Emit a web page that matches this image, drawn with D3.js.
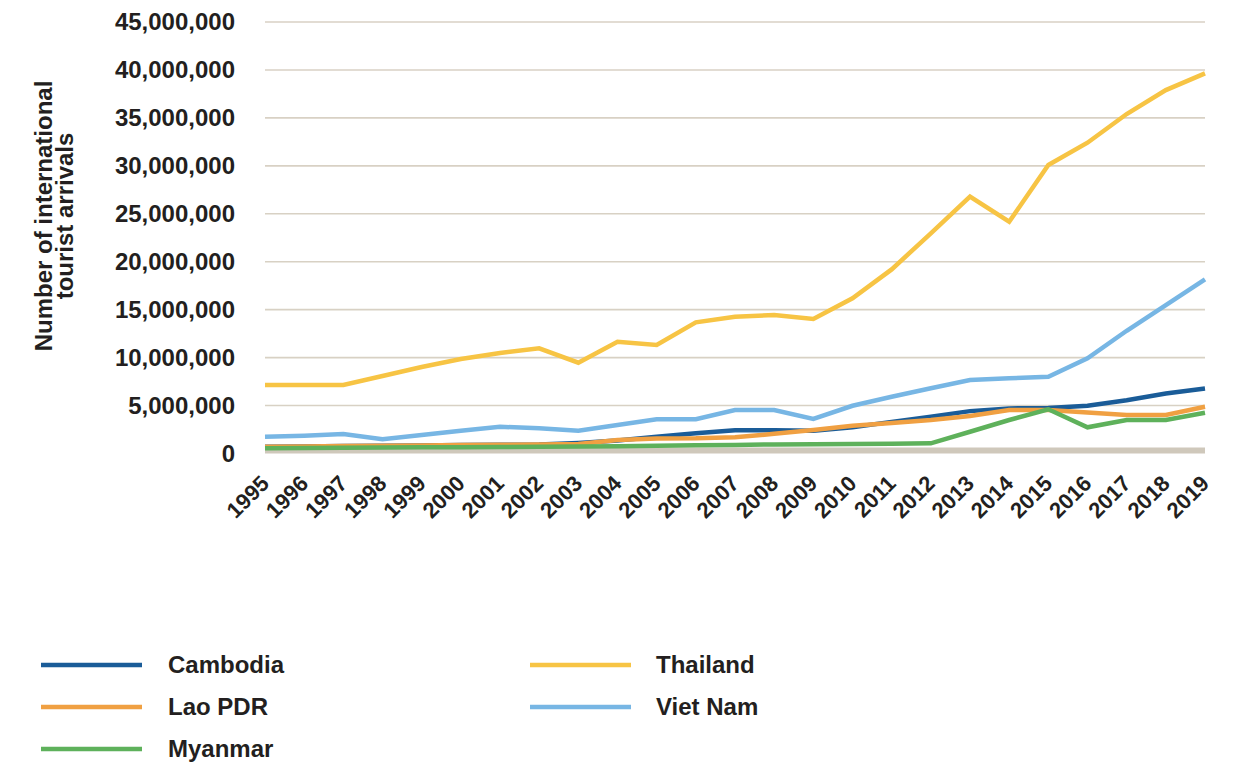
<!DOCTYPE html>
<html>
<head>
<meta charset="utf-8">
<script src="https://cdn.jsdelivr.net/npm/d3@7"></script>
<style>
  html, body { margin: 0; padding: 0; background: #ffffff; }
  svg { display: block; font-family: "Liberation Sans", Arial, Helvetica, sans-serif; font-weight: bold; }
</style>
</head>
<body>
<svg id="chart" width="1236" height="765"></svg>
<script>
const years = ["1995","1996","1997","1998","1999","2000","2001","2002","2003","2004","2005","2006","2007","2008","2009","2010","2011","2012","2013","2014","2015","2016","2017","2018","2019"];

const cambodia = [710000,740000,770000,800000,840000,880000,900000,930000,1100000,1350000,1750000,2100000,2430000,2430000,2380000,2730000,3300000,3830000,4420000,4700000,4740000,4970000,5560000,6260000,6780000];
const laoPDR   = [710000,740000,770000,800000,840000,880000,900000,930000,990000,1400000,1570000,1580000,1700000,2050000,2450000,2900000,3180000,3490000,3910000,4540000,4540000,4280000,4010000,4010000,4880000];
const myanmar  = [550000,580000,600000,620000,640000,660000,680000,700000,720000,750000,800000,850000,880000,950000,960000,980000,1020000,1060000,2270000,3490000,4610000,2730000,3490000,3490000,4250000];
const thailand = [7140000,7140000,7140000,8080000,9020000,9850000,10480000,10970000,9470000,11660000,11310000,13680000,14260000,14440000,14030000,16180000,19200000,22960000,26780000,24170000,30080000,32410000,35400000,37900000,39640000];
const vietNam  = [1750000,1860000,2030000,1480000,1930000,2380000,2790000,2630000,2380000,2970000,3570000,3570000,4540000,4540000,3600000,4980000,5920000,6800000,7660000,7840000,8000000,9930000,12800000,15480000,18160000];

const seriesNames  = ["Cambodia","Lao PDR","Myanmar","Thailand","Viet Nam"];
const seriesValues = [cambodia, laoPDR, myanmar, thailand, vietNam];
const seriesColors = ["#1a5c98","#f0a042","#5eb15b","#f7c444","#77b6e4"];

const yTicks = [0,5000000,10000000,15000000,20000000,25000000,30000000,35000000,40000000,45000000];
const yTitleLines = ["Number of international","tourist arrivals"];

const svg = d3.select("#chart");
const textColor = "#231f20";

const x = d3.scalePoint().domain(years).range([265, 1205]);
const y = d3.scaleLinear().domain([0, 45000000]).range([453.5, 22]);

// gridlines
svg.append("g").selectAll("line")
  .data(yTicks.filter(d => d > 0))
  .join("line")
  .attr("x1", x.range()[0]).attr("x2", x.range()[1])
  .attr("y1", d => y(d)).attr("y2", d => y(d))
  .attr("stroke", "#d8d1c4").attr("stroke-width", 1.6);

// baseline (thick)
svg.append("line")
  .attr("x1", x.range()[0]).attr("x2", x.range()[1])
  .attr("y1", y(0) - 3).attr("y2", y(0) - 3)
  .attr("stroke", "#cfc8bb").attr("stroke-width", 6);

// y tick labels
const fmt = d3.format(",");
svg.append("g").selectAll("text")
  .data(yTicks)
  .join("text")
  .attr("x", 235).attr("y", d => y(d))
  .attr("dy", "0.35em")
  .attr("text-anchor", "end")
  .attr("font-size", 24)
  .attr("fill", textColor)
  .text(d => fmt(d));

// x tick labels
svg.append("g").selectAll("text")
  .data(years)
  .join("text")
  .attr("transform", d => `translate(${x(d)},${y(0) + 26}) rotate(-45)`)
  .attr("dy", "0.35em")
  .attr("text-anchor", "end")
  .attr("font-size", 22)
  .attr("fill", textColor)
  .text(d => d);

// y title
const yt = svg.append("text")
  .attr("transform", "translate(52,216) rotate(-90)")
  .attr("text-anchor", "middle")
  .attr("font-size", 24)
  .attr("fill", textColor);
yt.selectAll("tspan").data(yTitleLines).join("tspan")
  .attr("x", 0).attr("dy", (d, i) => i === 0 ? 0 : 21)
  .text(d => d);

// lines
const line = d3.line().x((d, i) => x(years[i])).y(d => y(d)).curve(d3.curveLinear);
svg.append("g").selectAll("path")
  .data(seriesValues)
  .join("path")
  .attr("d", d => line(d))
  .attr("fill", "none")
  .attr("stroke", (d, i) => seriesColors[i])
  .attr("stroke-width", 4.5)
  .attr("stroke-linejoin", "miter")
  .attr("stroke-linecap", "butt");

// legend
const legendPos = [
  {lx: 41, tx: 168, y: 665},
  {lx: 41, tx: 168, y: 707},
  {lx: 41, tx: 168, y: 749},
  {lx: 530, tx: 656, y: 665},
  {lx: 530, tx: 656, y: 707}
];
const lg = svg.append("g").selectAll("g").data(seriesNames).join("g");
lg.append("line")
  .attr("x1", (d, i) => legendPos[i].lx).attr("x2", (d, i) => legendPos[i].lx + 101)
  .attr("y1", (d, i) => legendPos[i].y).attr("y2", (d, i) => legendPos[i].y)
  .attr("stroke", (d, i) => seriesColors[i]).attr("stroke-width", 4.5);
lg.append("text")
  .attr("x", (d, i) => legendPos[i].tx).attr("y", (d, i) => legendPos[i].y)
  .attr("dy", "0.35em")
  .attr("font-size", 24)
  .attr("fill", textColor)
  .text(d => d);
</script>
</body>
</html>
